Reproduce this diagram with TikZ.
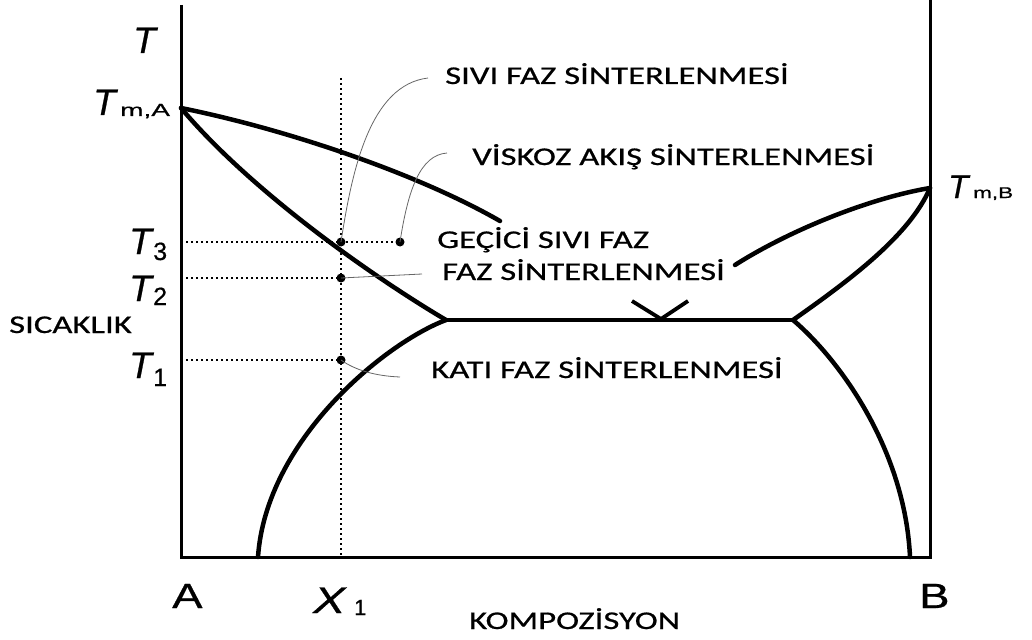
\documentclass[tikz,border=0pt]{standalone}
\usepackage{fontspec}
\newfontfamily\lblfont[FakeStretch=1.36,FakeBold=0.7]{Carlito}
\newfontfamily\arialfont[FakeBold=0.6]{Liberation Sans}
\newfontfamily\arialit[FakeBold=0.6]{Liberation Sans Italic}
\tikzset{
  phase/.style={line width=4.5pt, line cap=round, line join=round},
  axisline/.style={line width=3pt, line join=miter},
  dotline/.style={line width=2pt, dash pattern=on 2pt off 3pt},
  leader/.style={line width=0.8pt, draw=black!60},
  lbl/.style={font=\lblfont\fontsize{25.5}{25.5}\selectfont, inner sep=0, anchor=base west},
  symit/.style={font=\arialit\fontsize{37}{37}\selectfont, inner sep=0, anchor=base west},
  symup/.style={font=\arialfont\fontsize{35}{35}\selectfont, inner sep=0, anchor=base west},
  subup/.style={font=\arialfont\fontsize{25}{25}\selectfont, inner sep=0, anchor=base west},
  dotpt/.style={circle, fill=black, inner sep=0, minimum size=9pt}
}
\begin{document}
\begin{tikzpicture}[x=1pt,y=-1pt]
\useasboundingbox (0,0) rectangle (1032,639);
% key points
\coordinate (TmA) at (181,108);
\coordinate (TmB) at (930,188);
\coordinate (E1) at (446,320);
\coordinate (E2) at (793,320);
\coordinate (LiqAend) at (500,221);
\coordinate (LiqBend) at (735,265);
\coordinate (SolvAend) at (258,557);
\coordinate (SolvBend) at (910,557);
\coordinate (Vl) at (632,301);
\coordinate (Vm) at (661,319);
\coordinate (Vr) at (688,301);
\coordinate (AxTL) at (181,5);
\coordinate (AxBL) at (181,557);
\coordinate (AxBR) at (930,557);
\coordinate (AxTR) at (930,0);
\coordinate (Xtop) at (341,78);
\coordinate (Xbot) at (341,557);
\coordinate (Y3) at (181,242);
\coordinate (Y2) at (181,278);
\coordinate (Y1) at (181,360);
% axes
\draw[axisline] (AxTL) -- (AxBL) -- (AxBR) -- (AxTR);
% phase boundaries
\draw[phase] (TmA) .. controls (290,130) and (420,175) .. (LiqAend);
\draw[phase] (TmA) .. controls (250,190) and (370,275) .. (E1);
\draw[phase] (E1) -- (E2);
\draw[phase] (E1) .. controls (385,343) and (266,440) .. (SolvAend);
\draw[phase] (E2) .. controls (840,360) and (905,450) .. (SolvBend);
\draw[phase] (TmB) .. controls (910,235) and (850,280) .. (E2);
\draw[phase] (TmB) .. controls (870,198) and (790,230) .. (LiqBend);
\draw[line width=3.8pt, line join=miter] (Vl) -- (Vm) -- (Vr);
% dots
\node[dotpt] (d3) at (341,242) {};
\node[dotpt] (d3b) at (400,242) {};
\node[dotpt] (d2) at (341,278) {};
\node[dotpt] (d1) at (341,360) {};
% dotted guide lines
\draw[dotline] (Xtop) -- (Xbot);
\draw[dotline] (Y3) -- (d3b.center);
\draw[dotline] (Y2) -- (d2.center);
\draw[dotline] (Y1) -- (d1.center);
% labels
\node[lbl] (sivi) at (445,84) {SIVI FAZ SİNTERLENMESİ};
\node[lbl] (visk) at (472,165) {VİSKOZ AKIŞ SİNTERLENMESİ};
\node[lbl] (gecici) at (437,248) {GEÇİCİ SIVI FAZ};
\node[lbl] (fazs) at (442,280) {FAZ SİNTERLENMESİ};
\node[lbl] (kati) at (431,378) {KATI FAZ SİNTERLENMESİ};
\node[lbl] (sic) at (9,333) {SICAKLIK};
\node[lbl] (komp) at (469,629) {KOMPOZİSYON};
% leader endpoints
\coordinate (L1e) at (428,78);
\coordinate (L2e) at (447,153);
\coordinate (L3e) at (422,274);
\coordinate (L4e) at (400,377);
\draw[leader] (d3.center) .. controls (352,170) and (370,85) .. (L1e);
\draw[leader] (d3b.center) .. controls (408,190) and (420,155) .. (L2e);
\draw[leader] (d2.center) -- (L3e);
\draw[leader] (d1.center) .. controls (355,370) and (375,376) .. (L4e);
% symbols
\node[symit] (Tax) at (133,53) {T};
\node[symit] (TA) at (93,115) {T};
\node[subup, font=\arialfont\fontsize{17.5}{17.5}\selectfont] (TAs) at (120,116) {\scalebox{1.6}[1]{m,A}};
\node[symit, font=\arialit\fontsize{33}{33}\selectfont] (TB) at (948,198) {T};
\node[subup, font=\arialfont\fontsize{15.5}{15.5}\selectfont] (TBs) at (973,198) {\scalebox{1.45}[1]{m,B}};
\node[symit] (T3) at (129,254) {T};
\node[subup] (T3s) at (153,260) {3};
\node[symit] (T2) at (129,301) {T};
\node[subup] (T2s) at (153,305) {2};
\node[symit] (T1) at (129,378) {T};
\node[subup] (T1s) at (153,386) {1};
\node[symup] (LA) at (172,608) {\scalebox{1.3}[1]{A}};
\node[symup] (LB) at (919,608) {\scalebox{1.3}[1]{B}};
\node[symit, font=\arialit\fontsize{37}{37}\selectfont] (LX) at (313,613) {\scalebox{1.3}[1]{X}};
\node[subup, font=\arialfont\fontsize{22}{22}\selectfont] (LXs) at (354,615) {1};
\end{tikzpicture}
\end{document}
